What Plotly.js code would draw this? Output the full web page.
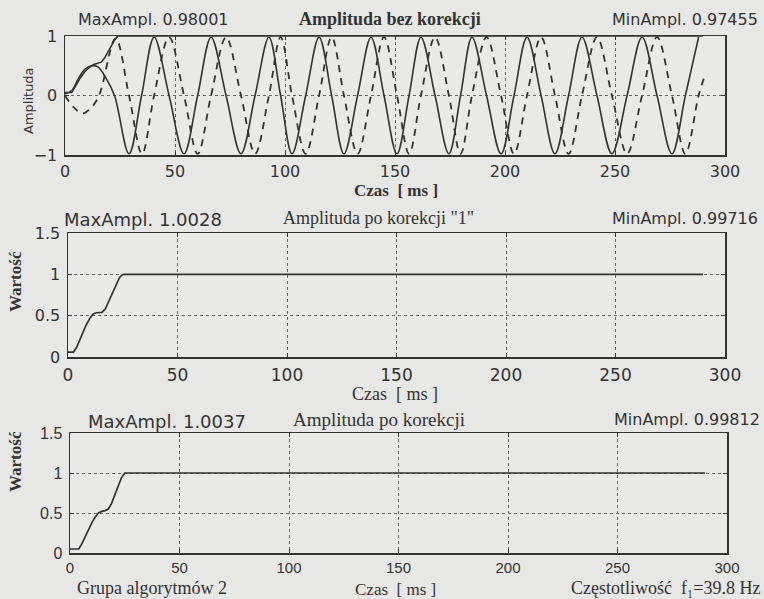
<!DOCTYPE html>
<html>
<head>
<meta charset="utf-8">
<script src="https://cdn.plot.ly/plotly-3.0.1.min.js"></script>
<style>
html,body{margin:0;padding:0;background:#e7e7e5;}
#chart{width:764px;height:599px;}
</style>
</head>
<body>
<div id="chart"></div>
<script>
// ---- data ----
const xTicks = [0, 50, 100, 150, 200, 250, 300];
const yTicksTop = [-1, 0, 1];
const yTickTextTop = ['−1', '0', '1'];
const yTicksLow = [0, 0.5, 1, 1.5];
const yTickTextLow = ['0', '0.5', '1', '1.5'];

// top panel: solid component (ms, value)
const tSolid = [0, 3, 6, 9, 12, 15, 18.5, 22.5, 29.1, 34.8, 40.5, 47.3, 54.1, 60.3, 66.4, 73.2, 80, 86.4, 92.7, 98, 103.2, 109.4, 115.5, 121.2, 126.8, 133, 139.1, 145, 150.9, 156.4, 161.8, 168.2, 174.5, 179.8, 185, 191.6, 198.2, 204.1, 210, 216.4, 222.7, 228.9, 235, 241.8, 248.6, 255.5, 262.3, 269.1, 275.9, 282, 288];
const vSolid = [0.03, 0.08, 0.28, 0.44, 0.5, 0.48, 0.3, 0, -0.98, 0, 0.98, 0, -0.98, 0, 0.98, 0, -0.98, 0, 0.98, 0, -0.98, 0, 0.98, 0, -0.98, 0, 0.98, 0, -0.98, 0, 0.98, 0, -0.98, 0, 0.98, 0, -0.98, 0, 0.98, 0, -0.98, 0, 0.98, 0, -0.98, 0, 0.98, 0, -0.98, 0, 0.98];
// top panel: dashed component
const tDashed = [0, 4, 8, 12, 15.5, 23, 29.1, 35, 40.5, 47.3, 54.1, 60.3, 66.4, 73.2, 80, 86.4, 92.7, 98, 103.2, 109.4, 115.5, 121.2, 126.8, 133, 139.1, 145, 150.9, 156.4, 161.8, 168.2, 174.5, 179.8, 185, 191.6, 198.2, 204.1, 210, 216.4, 222.7, 228.9, 235, 241.8, 248.6, 255.5, 262.3, 269.1, 275.9, 282, 288, 290.5];
const vDashed = [0, -0.2, -0.3, -0.2, 0, 0.96, 0, -0.98, 0, 0.98, 0, -0.98, 0, 0.98, 0, -0.98, 0, 0.98, 0, -0.98, 0, 0.98, 0, -0.98, 0, 0.98, 0, -0.98, 0, 0.98, 0, -0.98, 0, 0.98, 0, -0.98, 0, 0.98, 0, -0.98, 0, 0.98, 0, -0.98, 0, 0.98, 0, -0.98, 0, 0.3];
// top panel: amplitude estimate without correction
const tEnv0 = [0, 3, 5, 7, 9, 11, 13, 15, 16.5, 18, 19.5, 21, 22.5, 24, 290];
const vEnv0 = [0.05, 0.05, 0.17, 0.3, 0.4, 0.47, 0.52, 0.54, 0.56, 0.63, 0.73, 0.83, 0.93, 1.0, 1.0];
// middle panel: amplitude after correction "1"
const tCorr1 = [0, 2.5, 4, 6, 8, 10, 11.5, 13, 15.5, 17, 18.5, 20, 22, 23.5, 24.5, 25.5, 290];
const vCorr1 = [0.06, 0.06, 0.12, 0.25, 0.37, 0.47, 0.52, 0.535, 0.54, 0.58, 0.67, 0.77, 0.88, 0.96, 0.99, 1.0, 1.0];
// bottom panel: amplitude after correction
const tCorr2 = [0, 4, 5.5, 7, 8.5, 10, 11.5, 13, 14.5, 16, 17.5, 19, 20.5, 22, 23.5, 25, 290];
const vCorr2 = [0.05, 0.05, 0.12, 0.21, 0.3, 0.38, 0.45, 0.5, 0.52, 0.53, 0.55, 0.62, 0.73, 0.84, 0.94, 1.0, 1.0];

// ---- helpers ----
const W = 764, H = 599;
const px = x => x / W;
const py = y => 1 - y / H;
const ink = '#333333';
const sans = 'DejaVu Sans, sans-serif';
const arial = 'Liberation Sans, sans-serif';
const serif = 'Liberation Serif, serif';

const traces = [
  {x: tEnv0, y: vEnv0, xaxis: 'x', yaxis: 'y', mode: 'lines', line: {color: ink, width: 1.6}, cliponaxis: false},
  {x: tSolid, y: vSolid, xaxis: 'x', yaxis: 'y', mode: 'lines', line: {color: ink, width: 1.6, shape: 'spline', smoothing: 1}},
  {x: tDashed, y: vDashed, xaxis: 'x', yaxis: 'y', mode: 'lines', line: {color: ink, width: 1.8, dash: '7px,6px', shape: 'spline', smoothing: 1}},
  {x: tCorr1, y: vCorr1, xaxis: 'x2', yaxis: 'y2', mode: 'lines', line: {color: ink, width: 1.7}},
  {x: tCorr2, y: vCorr2, xaxis: 'x3', yaxis: 'y3', mode: 'lines', line: {color: ink, width: 1.7}}
];

function xaxis(left, right, anchor, size, fam, standoff) {
  return {
    domain: [px(left), px(right)], anchor: anchor, range: [0, 300],
    tickvals: xTicks, ticks: 'inside', ticklen: 4, tickcolor: ink,
    showline: true, linecolor: ink, linewidth: 1.5, mirror: 'ticks',
    showgrid: true, gridcolor: '#666666', griddash: 'dot', gridwidth: 1,
    zeroline: false, tickfont: {family: fam, size: size, color: ink},
    ticklabelstandoff: standoff
  };
}
function yaxis(top, bottom, anchor, range, vals, text, size, fam) {
  return {
    domain: [py(bottom), py(top)], anchor: anchor, range: range,
    tickvals: vals, ticktext: text, ticks: 'inside', ticklen: 4, tickcolor: ink,
    showline: true, linecolor: ink, linewidth: 1.5, mirror: 'ticks',
    showgrid: true, gridcolor: '#666666', griddash: 'dot', gridwidth: 1,
    zeroline: false, tickfont: {family: fam, size: size, color: ink},
    ticklabelstandoff: 3
  };
}

function ann(text, x, y, xa, size, fam, extra) {
  return Object.assign({text: text, x: px(x), y: py(y), xref: 'paper', yref: 'paper',
    xanchor: xa, yanchor: 'middle', showarrow: false,
    font: {family: fam, size: size, color: ink}}, extra || {});
}

const layout = {
  width: W, height: H,
  margin: {l: 0, r: 0, t: 0, b: 0},
  paper_bgcolor: '#e7e7e5', plot_bgcolor: '#e9e9e7',
  showlegend: false,
  xaxis: xaxis(65, 725, 'y', 16, sans, 1),
  yaxis: yaxis(36, 155, 'x', [-1, 1], yTicksTop, yTickTextTop, 16, sans),
  xaxis2: xaxis(68, 725, 'y2', 17, sans, 2),
  yaxis2: yaxis(233, 357, 'x2', [0, 1.5], yTicksLow, yTickTextLow, 16, sans),
  xaxis3: xaxis(70, 727, 'y3', 15, arial, 0),
  yaxis3: yaxis(433, 553, 'x3', [0, 1.5], yTicksLow, yTickTextLow, 16, arial),
  annotations: [
    ann('MaxAmpl. 0.98001', 76, 20, 'left', 16, sans),
    ann('<b>Amplituda bez korekcji</b>', 390, 19, 'center', 18, serif),
    ann('MinAmpl. 0.97455', 760, 20, 'right', 16, sans),
    ann('<b>Czas  [ ms ]</b>', 396, 190, 'center', 17, serif),
    ann('Amplituda', 28, 100, 'center', 13, sans, {textangle: -90}),

    ann('MaxAmpl. 1.0028', 62, 219, 'left', 18, sans),
    ann('Amplituda po korekcji "1"', 378, 218, 'center', 18, serif),
    ann('MinAmpl. 0.99716', 760, 218, 'right', 16, sans),
    ann('Czas  [ ms ]', 395, 394, 'center', 18, serif),
    ann('<b>Wartość</b>', 15, 282, 'center', 17, serif, {textangle: -90}),

    ann('MaxAmpl. 1.0037', 86, 421, 'left', 18, sans),
    ann('Amplituda po korekcji', 379, 419, 'center', 19, serif),
    ann('MinAmpl. 0.99812', 762, 419, 'right', 16, sans),
    ann('<b>Wartość</b>', 15, 462, 'center', 17, serif, {textangle: -90}),
    ann('Grupa algorytmów 2', 75, 588, 'left', 18, serif),
    ann('Czas  [ ms ]', 395, 589, 'center', 17, serif),
    ann('Częstotliwość  f₁=39.8 Hz', 762, 588, 'right', 18, serif)
  ]
};

Plotly.newPlot('chart', traces, layout, {displayModeBar: false, staticPlot: true});
</script>
</body>
</html>
